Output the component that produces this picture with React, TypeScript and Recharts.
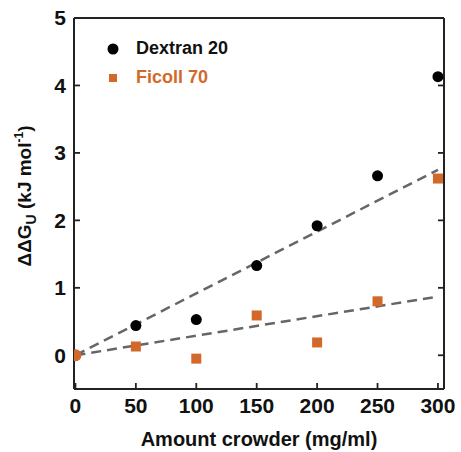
import React from 'react';
import { ComposedChart, Scatter, Line, XAxis, YAxis } from 'recharts';

const FONT = '"Liberation Sans", Arial, Helvetica, sans-serif';
const ORANGE = '#D2692A';
const DASH = '#666666';
const INK = '#222222';

// Crowder concentrations (mg/ml)
const crowder = [0, 50, 100, 150, 200, 250, 300];
// ΔΔG_U values (kJ/mol)
const dextran20 = [0, 0.44, 0.53, 1.33, 1.92, 2.66, 4.13];
const ficoll70 = [0, 0.13, -0.05, 0.59, 0.19, 0.8, 2.62];
// Linear fits through the origin, end points at 300 mg/ml
const dextranFitEnds = [0, 2.75];
const ficollFitEnds = [0, 0.87];
const fitX = [0, 300];

const xTicks = [0, 50, 100, 150, 200, 250, 300];
const yTicks = [0, 1, 2, 3, 4, 5];
const X_DOMAIN: [number, number] = [-1.2, 305];
const Y_DOMAIN: [number, number] = [-0.5, 5];

const WIDTH = 461;
const HEIGHT = 452;
const MARGIN = { top: 18, right: 17, bottom: 0, left: 0 };

const toPoints = (xs: number[], ys: number[]) => xs.map((x, i) => ({ x, y: ys[i] }));
const dextranData = toPoints(crowder, dextran20);
const ficollData = toPoints(crowder, ficoll70);
const dextranFit = toPoints(fitX, dextranFitEnds);
const ficollFit = toPoints(fitX, ficollFitEnds);

const tickFont = { fontFamily: FONT, fontWeight: 'bold', fontSize: 21, fill: '#111' } as any;
const axisLine = { stroke: INK, strokeWidth: 2 };
const tickLine = { stroke: INK, strokeWidth: 1.8 };
// top/right axes only carry tick marks, no labels
const NoLabel = () => <g />;

const YLabel = () => {
  const cx = 31;
  const cy = 196;
  return (
    <text
      x={cx}
      y={cy}
      transform={`rotate(-90, ${cx}, ${cy})`}
      textAnchor="middle"
      fontFamily={FONT}
      fontWeight="bold"
      fontSize={19}
      fill="#111"
    >
      ΔΔG
      <tspan fontSize={14} dy={5}>U</tspan>
      <tspan dy={-5}> (kJ mol</tspan>
      <tspan fontSize={12} dy={-8}>-1</tspan>
      <tspan dy={8}>)</tspan>
    </text>
  );
};

const Dot = (props: any) => {
  const { cx, cy } = props;
  return <circle cx={cx} cy={cy} r={5.5} fill="#000" />;
};

const Square = (props: any) => {
  const { cx, cy, payload } = props;
  if (payload && payload.x === 0) {
    return <circle cx={cx} cy={cy} r={6} fill={ORANGE} />;
  }
  return <rect x={cx - 5} y={cy - 5} width={10} height={10} fill={ORANGE} />;
};

const LegendBox = () => (
  <div
    style={{
      position: 'absolute',
      left: 104,
      top: 34,
      fontFamily: FONT,
      fontWeight: 'bold',
      fontSize: 18,
      lineHeight: '29px',
    }}
  >
    <div style={{ display: 'flex', alignItems: 'center', color: '#111' }}>
      <svg width={22} height={14}>
        <circle cx={9} cy={7} r={5.5} fill="#000" />
      </svg>
      <span style={{ marginLeft: 10 }}>Dextran 20</span>
    </div>
    <div style={{ display: 'flex', alignItems: 'center', color: ORANGE }}>
      <svg width={22} height={14}>
        <rect x={5} y={3} width={8} height={8} fill={ORANGE} />
      </svg>
      <span style={{ marginLeft: 10 }}>Ficoll 70</span>
    </div>
  </div>
);

export default function App() {
  return (
    <div style={{ position: 'absolute', left: 0, top: 0, width: WIDTH, height: HEIGHT, background: '#fff' }}>
      <ComposedChart width={WIDTH} height={HEIGHT} margin={MARGIN}>
        <XAxis
          type="number"
          dataKey="x"
          domain={X_DOMAIN}
          ticks={xTicks}
          allowDataOverflow
          height={63}
          axisLine={axisLine}
          tickLine={tickLine}
          tickSize={-6}
          tickMargin={15}
          tick={tickFont}
          interval={0}
          label={
            {
              value: 'Amount crowder (mg/ml)',
              position: 'insideBottom',
              offset: 6,
              style: { fontFamily: FONT, fontWeight: 'bold', fontSize: 20, fill: '#111' },
            } as any
          }
        />
        <XAxis
          xAxisId="top"
          orientation="top"
          type="number"
          domain={X_DOMAIN}
          ticks={xTicks}
          allowDataOverflow
          mirror
          axisLine={axisLine}
          tickLine={tickLine}
          tickSize={6}
          tick={<NoLabel />}
          interval={0}
        />
        <YAxis
          type="number"
          dataKey="y"
          domain={Y_DOMAIN}
          ticks={yTicks}
          allowDataOverflow
          width={74}
          axisLine={axisLine}
          tickLine={tickLine}
          tickSize={-6}
          tickMargin={14}
          tick={tickFont}
          interval={0}
          label={{ content: () => <YLabel /> } as any}
        />
        <YAxis
          yAxisId="right"
          orientation="right"
          type="number"
          domain={Y_DOMAIN}
          ticks={yTicks}
          allowDataOverflow
          mirror
          axisLine={axisLine}
          tickLine={tickLine}
          tickSize={6}
          tick={<NoLabel />}
          interval={0}
        />
        <Line
          data={dextranFit}
          dataKey="y"
          type="linear"
          stroke={DASH}
          strokeWidth={2.5}
          strokeDasharray="10 6"
          dot={false}
          activeDot={false}
          isAnimationActive={false}
        />
        <Line
          data={ficollFit}
          dataKey="y"
          type="linear"
          stroke={DASH}
          strokeWidth={2.5}
          strokeDasharray="10 6"
          dot={false}
          activeDot={false}
          isAnimationActive={false}
        />
        <Scatter name="Dextran 20" data={dextranData} shape={<Dot />} isAnimationActive={false} />
        <Scatter name="Ficoll 70" data={ficollData} shape={<Square />} isAnimationActive={false} />
      </ComposedChart>
      <LegendBox />
    </div>
  );
}
